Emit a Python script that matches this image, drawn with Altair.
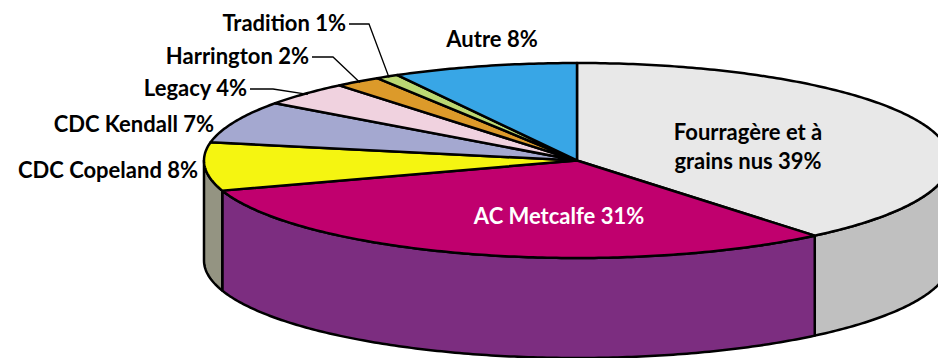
import numpy as np
import pandas as pd
import altair as alt

# ---- data ----
categories = ["Fourragère et à grains nus", "AC Metcalfe", "CDC Copeland", "CDC Kendall",
              "Legacy", "Harrington", "Tradition", "Autre"]
values = [39, 31, 8, 7, 4, 2, 1, 8]
label_texts = ["Fourragère et à\ngrains nus 39%", "AC Metcalfe 31%", "CDC Copeland 8%",
               "CDC Kendall 7%", "Legacy 4%", "Harrington 2%", "Tradition 1%", "Autre 8%"]

# ---- style ----
top_colors = ["#e8e8e8", "#c0006e", "#f5f511", "#a4a8d0", "#f0d2df", "#dc9a2a", "#bcd872", "#38a6e6"]
side_colors = ["#c0c0c0", "#7c2d80", "#949482", "#7e829f", "#b9a3ad", "#a8761f", "#90a658", "#2b80b0"]

W, H = 938, 358
CX, CY, A, B, DEPTH = 577, 160.5, 373, 97.5, 100
FONT = "Lato"
FS = 22

total = sum(values)
cum = np.cumsum([0] + values) / total * 2 * np.pi


def ex(t, r=1.0):
    return CX + A * r * np.sin(t)


def ey(t, r=1.0):
    return CY - B * r * np.cos(t)


top_rows, side_rows = [], []
for k, cat in enumerate(categories):
    t0, t1 = cum[k], cum[k + 1]
    ts = np.linspace(t0, t1, max(4, int((t1 - t0) * 80)))
    pts = [(CX, CY)] + [(ex(t), ey(t)) for t in ts] + [(CX, CY)]
    for i, (x, y) in enumerate(pts):
        top_rows.append({"cat": cat, "i": i, "x": x, "y": y})
    lo, hi = max(t0, np.pi / 2), min(t1, 3 * np.pi / 2)
    if hi > lo:
        ts = np.linspace(lo, hi, max(4, int((hi - lo) * 80)))
        pts = [(ex(t), ey(t)) for t in ts] + [(ex(t), ey(t) + DEPTH) for t in ts[::-1]]
        pts.append(pts[0])
        for i, (x, y) in enumerate(pts):
            side_rows.append({"cat": cat, "i": i, "x": x, "y": y})

top_df = pd.DataFrame(top_rows)
side_df = pd.DataFrame(side_rows)

xs = alt.Scale(domain=[0, W], nice=False, zero=False)
ys = alt.Scale(domain=[H, 0], nice=False, zero=False)
X = alt.X("x:Q", scale=xs, axis=None)
Y = alt.Y("y:Q", scale=ys, axis=None)

sides = alt.Chart(side_df).mark_line(stroke="black", strokeWidth=2.5, strokeJoin="round", clip=True).encode(
    x=X, y=Y, order="i:Q", detail="cat:N",
    fill=alt.Fill("cat:N", scale=alt.Scale(domain=categories, range=side_colors), legend=None))

tops = alt.Chart(top_df).mark_line(stroke="black", strokeWidth=2.5, strokeJoin="round", clip=True).encode(
    x=X, y=Y, order="i:Q", detail="cat:N",
    fill=alt.Fill("cat:N", scale=alt.Scale(domain=categories, range=top_colors), legend=None))

# ---- labels (layout) ----
mid = [(cum[k] + cum[k + 1]) / 2 for k in range(len(categories))]
# outside labels: index -> (text right x, text y, elbow x)
outside = {2: (198, 171, None), 3: (214, 125, None), 4: (247, 89, 273),
           5: (309, 57, 333), 6: (346, 24, 369)}
lab_rows, lead_rows = [], []
for k, (xr, yy, elb) in outside.items():
    lab_rows.append({"t": label_texts[k], "x": xr, "y": yy})
    if elb is not None:
        ends = [(xr + 3, yy), (elb, yy), (ex(mid[k], 0.99), ey(mid[k], 0.99))]
        for i, (x, y) in enumerate(ends):
            lead_rows.append({"cat": categories[k], "i": i, "x": x, "y": y})
lab_df = pd.DataFrame(lab_rows)
lead_df = pd.DataFrame(lead_rows)

out_labels = alt.Chart(lab_df).mark_text(align="right", baseline="middle", font=FONT, fontWeight="bold",
                                         fontSize=FS, color="black").encode(x=X, y=Y, text="t:N")
leaders = alt.Chart(lead_df).mark_line(color="black", strokeWidth=1.3).encode(
    x=X, y=Y, order="i:Q", detail="cat:N")

autre = alt.Chart(pd.DataFrame([{"t": label_texts[7], "x": 492, "y": 40}])).mark_text(
    align="center", baseline="middle", font=FONT, fontWeight="bold", fontSize=FS, color="black").encode(
    x=X, y=Y, text="t:N")
four = alt.Chart(pd.DataFrame([{"t": label_texts[0], "x": 748, "y": 133}])).mark_text(
    align="center", baseline="middle", font=FONT, fontWeight="bold", fontSize=FS, color="black",
    lineBreak="\n", lineHeight=29).encode(x=X, y=Y, text="t:N")
metc = alt.Chart(pd.DataFrame([{"t": label_texts[1], "x": 559, "y": 217}])).mark_text(
    align="center", baseline="middle", font=FONT, fontWeight="bold", fontSize=FS, color="white").encode(
    x=X, y=Y, text="t:N")

chart = alt.layer(sides, tops, leaders, out_labels, autre, four, metc).resolve_scale(
    fill="independent"
).properties(
    width=W, height=H, padding=0, autosize=alt.AutoSizeParams(type="none")
).configure_view(stroke=None)

chart.save("out.html", embed_options={"renderer": "svg", "actions": False})
